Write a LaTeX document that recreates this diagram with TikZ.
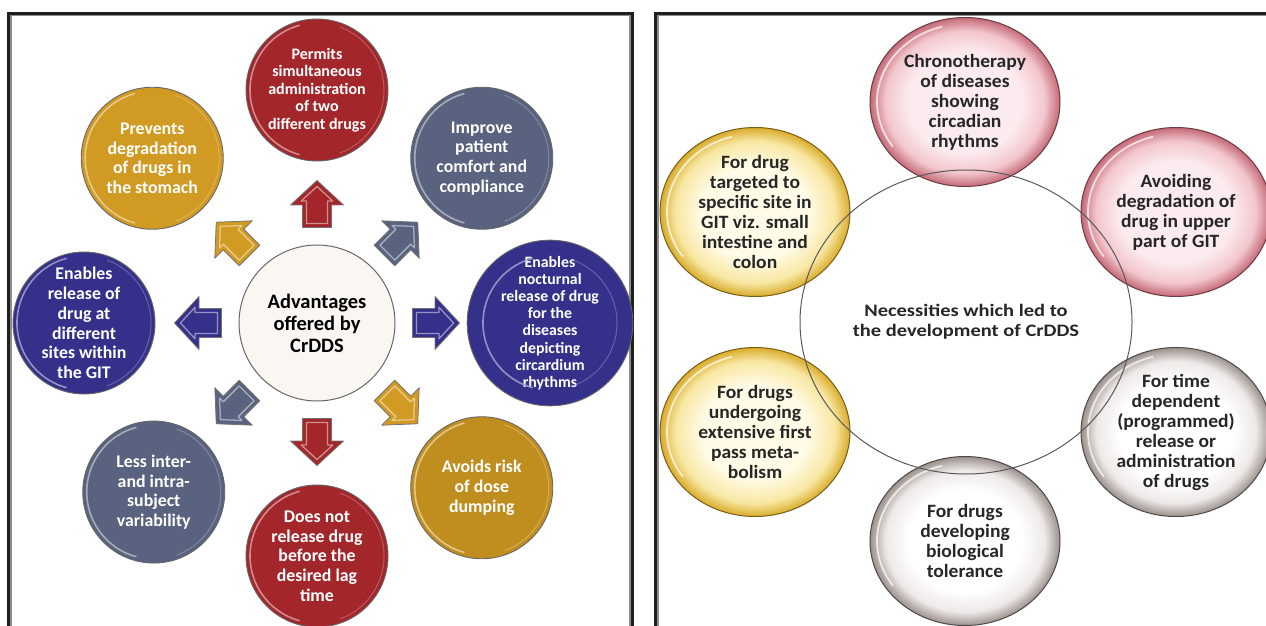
\documentclass[tikz,border=0pt]{standalone}
\usepackage{fontspec}
\setmainfont{Carlito}
\newfontfamily\hubfont[FakeStretch=1.17]{Carlito}
\newfontfamily\bubblefont[FakeStretch=1.04]{Carlito}
\usetikzlibrary{calc,shapes.geometric}

% palette of the advantages wheel
\definecolor{advred}{HTML}{A3262B}
\definecolor{advgold}{HTML}{D19A22}
\definecolor{advslate}{HTML}{59637F}
\definecolor{advnavy}{HTML}{35318B}
\definecolor{advcore}{HTML}{FAF7F3}
% palette of the necessities bubbles
\definecolor{pinkin}{HTML}{FCEBEE}
\definecolor{pinkmid}{HTML}{F2C6CC}
\definecolor{pinkrim}{HTML}{C46A77}
\definecolor{goldin}{HTML}{FFFBE6}
\definecolor{goldmid}{HTML}{F8E7A2}
\definecolor{goldrim}{HTML}{D9AC2C}
\definecolor{greyin}{HTML}{FFFFFF}
\definecolor{greymid}{HTML}{EDE9E7}
\definecolor{greyrim}{HTML}{9C918D}
\definecolor{bubbletext}{HTML}{262626}

\pgfdeclareradialshading{bubblepink}{\pgfpointorigin}{color(0bp)=(pinkin); color(15bp)=(pinkin); color(21bp)=(pinkmid); color(25bp)=(pinkrim); color(50bp)=(pinkrim)}
\pgfdeclareradialshading{bubblegold}{\pgfpointorigin}{color(0bp)=(goldin); color(14bp)=(goldin); color(21bp)=(goldmid); color(25bp)=(goldrim); color(50bp)=(goldrim)}
\pgfdeclareradialshading{bubblegrey}{\pgfpointorigin}{color(0bp)=(greyin); color(15bp)=(greyin); color(21bp)=(greymid); color(25bp)=(greyrim); color(50bp)=(greyrim)}

\tikzset{
  framedark/.style={draw=black!88, line width=3pt},
  framelight/.style={draw=black!45, line width=1.5pt},
  advball/.style={circle, minimum size=142pt, inner sep=0pt, draw=black!60,
    line width=0.9pt, text=white, align=center,
    font=\bfseries\fontsize{17.8}{19.7}\selectfont},
  advhub/.style={circle, minimum size=156pt, inner sep=0pt, fill=advcore,
    draw=black!60, line width=1pt, text=black, align=center,
    font=\bfseries\fontsize{20.5}{22}\selectfont},
  bubble/.style={ellipse, minimum width=190pt, minimum height=169pt,
    inner sep=0pt, line width=1pt, text=bubbletext, align=center,
    font=\bubblefont\bfseries\fontsize{18.8}{20}\selectfont},
  pinkbubble/.style={bubble, shading=bubblepink, draw=pinkrim!55!black},
  goldbubble/.style={bubble, shading=bubblegold, draw=goldrim!55!black},
  greybubble/.style={bubble, shading=bubblegrey, draw=greyrim!50!black},
  hubring/.style={ellipse, minimum width=332pt, minimum height=304pt,
    inner sep=0pt, draw=black!65, line width=1pt, text=bubbletext,
    align=center, font=\hubfont\bfseries\fontsize{17.5}{19.7}\selectfont},
}

% bevelled block arrow radiating from the hub
\newcommand\advarrow[2]{%
  \begin{scope}[shift={($(core)+(#1:119)$)}, rotate=#1]
    \filldraw[fill=#2, draw=black!55, line width=0.8pt, line join=round]
      (23.5,0) -- (-1,26.5) -- (-1,14.5) -- (-23.5,14.5) -- (-23.5,-14.5)
      -- (-1,-14.5) -- (-1,-26.5) -- cycle;
    \draw[#2!40!white, line width=1.3pt, opacity=.8, line join=round]
      (17.6,0) -- (3,15.8) -- (3,10.5) -- (-19.5,10.5) -- (-19.5,-10.5)
      -- (3,-10.5) -- (3,-15.8) -- cycle;
  \end{scope}}

% glossy rim on a wheel ball
\newcommand\advrim[2]{%
  \draw[#2!45!white, line width=1.6pt, opacity=.85]
    ($(#1.center)+(105:67)$) arc[start angle=105, end angle=255, radius=67];
  \draw[#2!60!white, line width=1pt, opacity=.6]
    ($(#1.center)+(-70:67)$) arc[start angle=-70, end angle=70, radius=67];}

\begin{document}
\begin{tikzpicture}[x=1pt, y=1pt]
\useasboundingbox (0,0) rectangle (1266,625);
\clip (0,0) rectangle (1266,625);

% panel frames
\draw[framedark] (8.5,-10) -- (8.5,611.5) -- (632.5,611.5) -- (632.5,-10);
\draw[framelight] (10.8,-10) -- (10.8,609.3) -- (630.2,609.3) -- (630.2,-10);
\draw[framedark] (655.5,-10) -- (655.5,611.5) -- (1280,611.5);
\draw[framelight] (657.8,-10) -- (657.8,609.3) -- (1280,609.3);

% ---------------- advantages wheel ----------------
\node[advhub] (core) at (317,302) {Advantages\\offered by\\CrDDS};

\node[advball, fill=advred, font=\bfseries\fontsize{16}{17.5}\selectfont]
  (simul) at ($(core)+(90:233)$) {Permits\\simultaneous\\administration\\of two\\different drugs};
\node[advball, fill=advgold] (stomach) at ($(core)+(135:233)$)
  {Prevents\\degradation\\of drugs in\\the stomach};
\node[advball, fill=advslate] (comfort) at ($(core)+(45:233)$)
  {Improve\\patient\\comfort and\\compliance};
\node[advball, fill=advnavy] (sites) at ($(core)+(180:233)$)
  {Enables\\release of\\drug at\\different\\sites within\\the GIT};
\node[advball, fill=advnavy, font=\bfseries\fontsize{15.8}{17.2}\selectfont]
  (nocturnal) at ($(core)+(0:233)$)
  {Enables\\nocturnal\\release of drug\\for the\\diseases\\depicting\\circardium\\rhythms};
\node[advball, fill=advslate] (variab) at ($(core)+(226:235)$)
  {Less inter-\\and intra-\\subject\\variability};
\node[advball, fill=advred] (lagtime) at ($(core)+(270:233)$)
  {Does not\\release drug\\before the\\desired lag\\time};
\node[advball, fill=advgold!92!black] (dumping) at ($(core)+(315:233)$)
  {Avoids risk\\of dose\\dumping};

\advrim{simul}{advred}
\advrim{stomach}{advgold}
\advrim{comfort}{advslate}
\advrim{sites}{advnavy}
\advrim{nocturnal}{advnavy}
\advrim{variab}{advslate}
\advrim{lagtime}{advred}
\advrim{dumping}{advgold}

\advarrow{90}{advred}
\advarrow{135}{advgold}
\advarrow{45}{advslate}
\advarrow{180}{advnavy}
\advarrow{0}{advnavy}
\advarrow{225}{advslate}
\advarrow{270}{advred}
\advarrow{315}{advgold}

% ---------------- necessities bubbles ----------------
\node[pinkbubble] (chrono) at (965,523)
  {Chronotherapy\\of diseases\\showing\\circadian\\rhythms};
\node[goldbubble] (targeted) at (755,413)
  {For drug\\targeted to\\specific site in\\GIT viz. small\\intestine and\\colon};
\node[pinkbubble] (upper) at (1176,413)
  {Avoiding\\degradation of\\drug in upper\\part of GIT};
\node[goldbubble] (firstpass) at (755,193)
  {For drugs\\undergoing\\extensive first\\pass meta-\\bolism};
\node[greybubble] (timedep) at (1176,193)
  {For time\\dependent\\(programmed)\\release or\\administration\\of drugs};
\node[greybubble] (tolerance) at (965,84)
  {For drugs\\developing\\biological\\tolerance};

% white gloss along the upper left of each bubble
\foreach \b in {chrono,targeted,upper,firstpass,timedep,tolerance}{
  \draw[white, line width=1.8pt, opacity=.7]
    ($(\b.center)+(105:88 and 78)$) arc[start angle=105, end angle=215,
      x radius=88, y radius=78];
}

\node[hubring] (needs) at (966,303)
  {Necessities which led to\\the development of CrDDS};
\end{tikzpicture}
\end{document}
